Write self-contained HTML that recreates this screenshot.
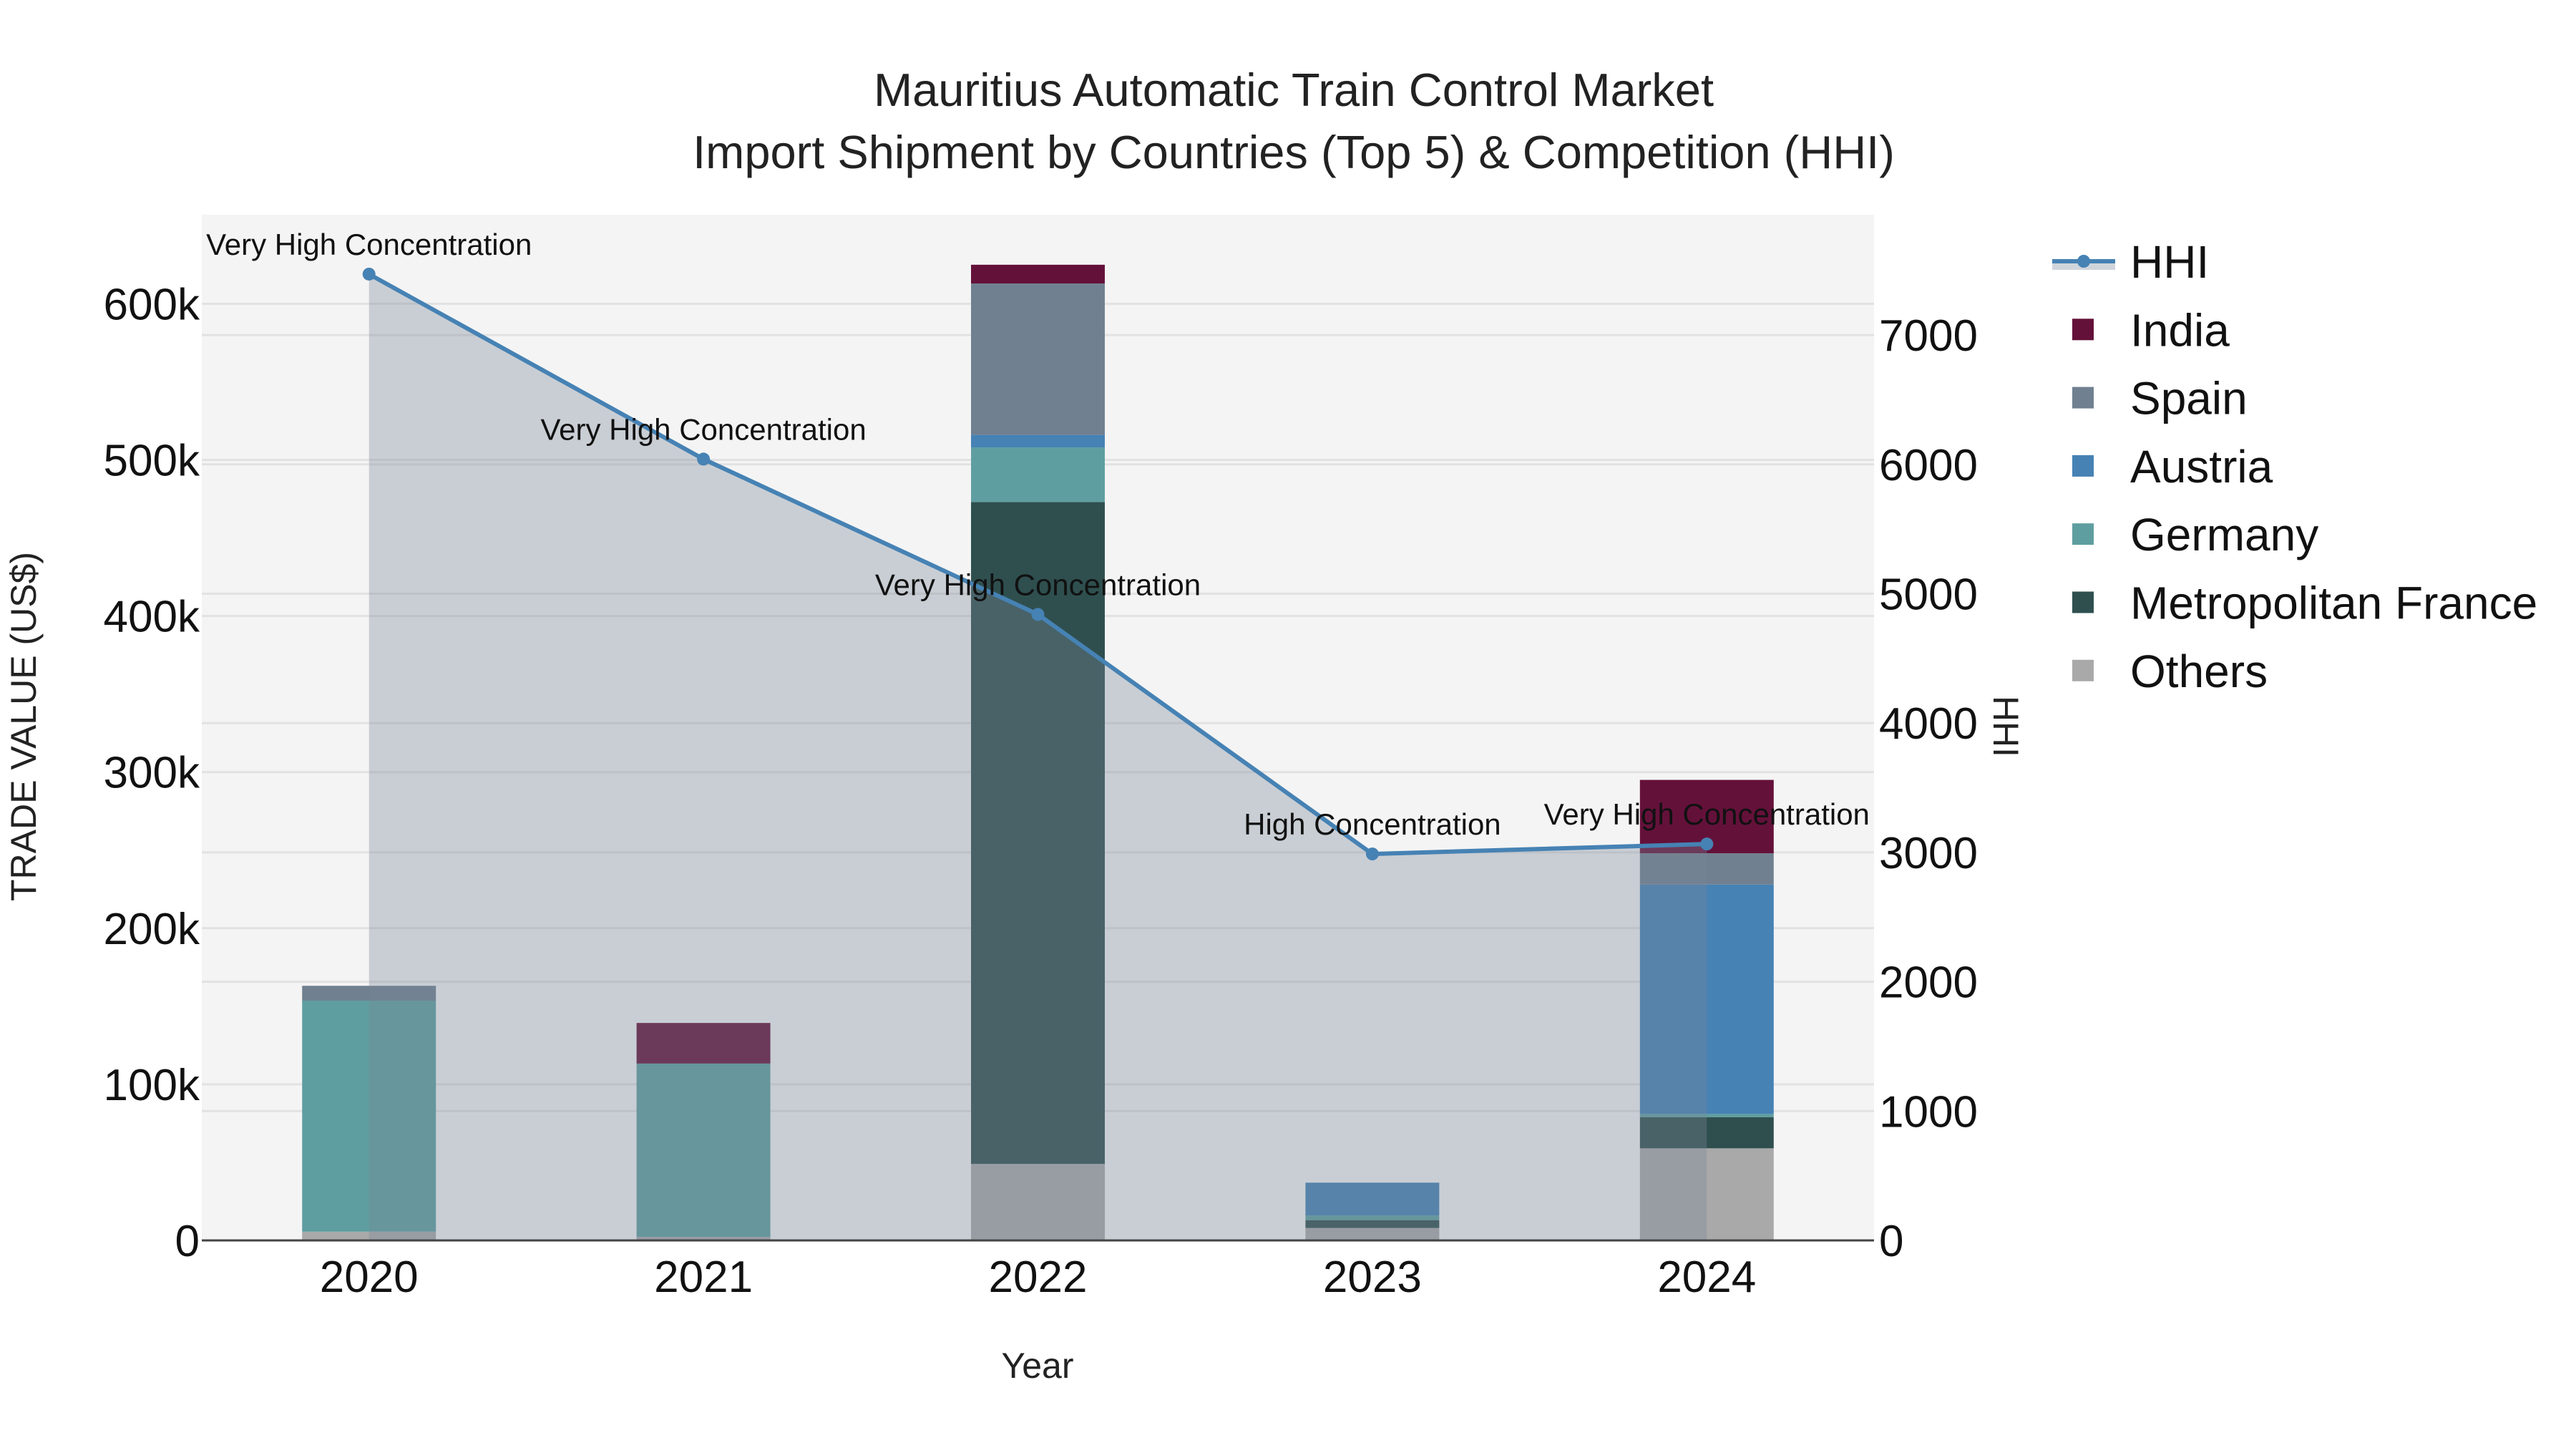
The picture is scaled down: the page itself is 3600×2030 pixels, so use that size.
<!DOCTYPE html>
<html><head><meta charset="utf-8"><style>
html,body{margin:0;padding:0;background:#fff}
svg text{font-family:"Liberation Sans",sans-serif}
</style></head><body>
<svg id="chart" width="3600" height="2025" xmlns="http://www.w3.org/2000/svg"></svg>
<script>
const years = ["2020","2021","2022","2023","2024"];
const others = [5.6, 2.3, 49, 8, 59];
const france = [0, 0, 424, 5, 20];
const germany = [148, 111, 35, 3, 2];
const austria = [0, 0, 8, 21, 147];
const spain = [9.5, 0, 97, 0, 20];
const india = [0, 26, 12, 0, 47];
const hhi = [7471, 6041, 4840, 2988, 3065];
const hhiLabels = ["Very High Concentration","Very High Concentration","Very High Concentration","High Concentration","Very High Concentration"];
const leftTicks = [0,100,200,300,400,500,600];
const rightTicks = [0,1000,2000,3000,4000,5000,6000,7000];

const NS="http://www.w3.org/2000/svg";
const svg=document.getElementById('chart');
function mk(tag,attrs,parent){const e=document.createElementNS(NS,tag);for(const k in attrs)e.setAttribute(k,attrs[k]);(parent||svg).appendChild(e);return e;}
const L=282,R=2619,T=300,B=1733;
const step=(R-L)/years.length;
const xc=i=>L+step*(i+0.5);
const yL=v=>B-v*2.181;
const yR=v=>B-v*0.1807;
const bw=step*0.4;

let bg=mk('rect',{x:L,y:T,width:R-L,height:B-T,fill:'#f4f4f4'});



leftTicks.forEach(t=>{
  const l=mk('line',{x1:L,x2:R,y1:yL(t*1),y2:yL(t*1),stroke:'#e2e2e2','stroke-width':3});
  
  
  const tx=mk('text',{x:279,y:yL(t)+22,'text-anchor':'end','font-size':62,fill:'#111'});
  tx.textContent=t===0?'0':t+'k';
  
  
});
rightTicks.forEach(t=>{
  const l=mk('line',{x1:L,x2:R,y1:yR(t),y2:yR(t),stroke:'#e2e2e2','stroke-width':3});
  
  
  const tx=mk('text',{x:2626,y:yR(t)+22,'font-size':62,fill:'#111'});
  tx.textContent=t;
  
  
});

const series=[["others",others,"#a9a9a9"],["metropolitan-france",france,"#2f4f4f"],["germany",germany,"#5f9ea0"],["austria",austria,"#4682b4"],["spain",spain,"#708090"],["india",india,"#64113a"]];
years.forEach((y,i)=>{
  let base=0;
  series.forEach(s=>{
    const v=s[1][i];
    if(v>0){
      const r=mk('rect',{x:xc(i)-bw/2,y:yL(base+v),width:bw,height:yL(base)-yL(base+v),fill:s[2]});
      
      
    }
    base+=v;
  });
});

let d='M'+xc(0)+','+B;
hhi.forEach((v,i)=>{d+=' L'+xc(i)+','+yR(v);});
d+=' L'+xc(hhi.length-1)+','+B+' Z';
const area=mk('path',{d:d,fill:'rgba(119,136,153,0.35)'});


const line=mk('polyline',{points:hhi.map((v,i)=>xc(i)+','+yR(v)).join(' '),fill:'none',stroke:'#4682b4','stroke-width':6});


hhi.forEach((v,i)=>{
  const c=mk('circle',{cx:xc(i),cy:yR(v),r:9,fill:'#4682b4'});
  
  
  const a=mk('text',{x:xc(i),y:yR(v)-27,'text-anchor':'middle','font-size':42,fill:'#111'});
  a.textContent=hhiLabels[i];
  
  
});

const ax=mk('line',{x1:L,x2:R,y1:B,y2:B,stroke:'#444','stroke-width':3});


years.forEach((y,i)=>{
  const t=mk('text',{x:xc(i),y:1805,'text-anchor':'middle','font-size':62,fill:'#111'});
  t.textContent=y;
  
  
});

const legend=[["HHI",null],["India","#64113a"],["Spain","#708090"],["Austria","#4682b4"],["Germany","#5f9ea0"],["Metropolitan France","#2f4f4f"],["Others","#a9a9a9"]];
legend.forEach((e,i)=>{
  const y=365+i*95.3;
  if(e[1]===null){
    const b=mk('rect',{x:2868,y:y,width:88,height:12,fill:'rgba(119,136,153,0.35)'});
    
    
    const ln=mk('line',{x1:2868,x2:2956,y1:y,y2:y,stroke:'#4682b4','stroke-width':6});
    
    
    const c=mk('circle',{cx:2912,cy:y,r:9,fill:'#4682b4'});
    
    
  } else {
    const s=mk('rect',{x:2896,y:y-15,width:30,height:30,fill:e[1]});
    
    
  }
  const t=mk('text',{x:2977,y:y+23,'font-size':64,fill:'#111'});
  t.textContent=e[0];
  
  
});
</script>
<svg style="position:absolute;left:0;top:0" width="3600" height="2025" xmlns="http://www.w3.org/2000/svg">
<text x="1808" y="148" text-anchor="middle" font-size="65" fill="#222" font-family="Liberation Sans, sans-serif">Mauritius Automatic Train Control Market</text>
<text x="1808" y="235" text-anchor="middle" font-size="65" fill="#222" font-family="Liberation Sans, sans-serif">Import Shipment by Countries (Top 5) &amp; Competition (HHI)</text>
<text x="1450" y="1925" text-anchor="middle" font-size="50" fill="#222" font-family="Liberation Sans, sans-serif">Year</text>
<text x="0" y="0" transform="translate(50,1015) rotate(-90)" text-anchor="middle" font-size="50" fill="#222" font-family="Liberation Sans, sans-serif">TRADE VALUE (US$)</text>
<text x="0" y="0" transform="translate(2786,1015) rotate(90)" text-anchor="middle" font-size="50" fill="#222" font-family="Liberation Sans, sans-serif">HHI</text>
</svg>
</body></html>
